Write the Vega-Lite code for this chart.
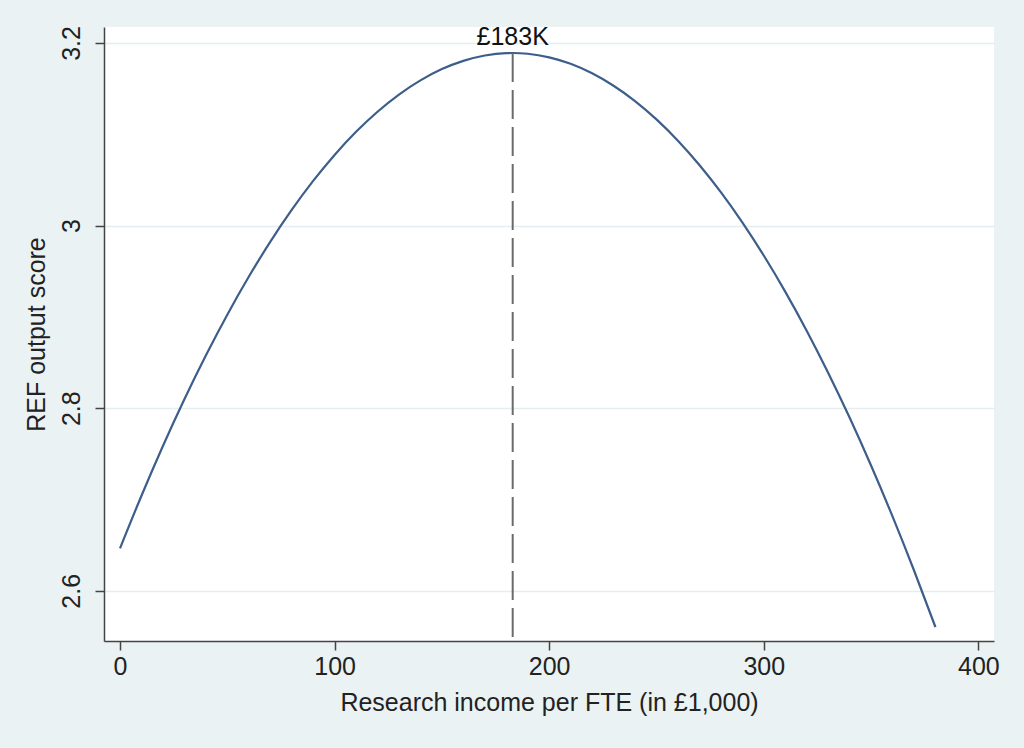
{
  "$schema": "https://vega.github.io/schema/vega-lite/v6.json",
  "autosize": "none",
  "width": 890,
  "height": 614,
  "padding": {"left": 104, "top": 27, "right": 30, "bottom": 107},
  "background": "#eaf2f3",
  "config": {
    "view": {"stroke": null, "fill": "white"},
    "font": "Liberation Sans"
  },
  "datasets": {
    "curve": [
      {"x": 0, "y": 2.6465}, {"x": 10, "y": 2.7041}, {"x": 20, "y": 2.7586}, {"x": 30, "y": 2.8098},
      {"x": 40, "y": 2.8577}, {"x": 50, "y": 2.9024}, {"x": 60, "y": 2.9439}, {"x": 70, "y": 2.9821},
      {"x": 80, "y": 3.0171}, {"x": 90, "y": 3.0489}, {"x": 100, "y": 3.0774}, {"x": 110, "y": 3.1027},
      {"x": 120, "y": 3.1247}, {"x": 130, "y": 3.1435}, {"x": 140, "y": 3.159}, {"x": 150, "y": 3.1714},
      {"x": 160, "y": 3.1804}, {"x": 170, "y": 3.1863}, {"x": 180, "y": 3.1889}, {"x": 183, "y": 3.189},
      {"x": 190, "y": 3.1882}, {"x": 200, "y": 3.1843}, {"x": 210, "y": 3.1772}, {"x": 220, "y": 3.1668},
      {"x": 230, "y": 3.1532}, {"x": 240, "y": 3.1364}, {"x": 250, "y": 3.1163}, {"x": 260, "y": 3.093},
      {"x": 270, "y": 3.0664}, {"x": 280, "y": 3.0366}, {"x": 290, "y": 3.0035}, {"x": 300, "y": 2.9672},
      {"x": 310, "y": 2.9277}, {"x": 320, "y": 2.8849}, {"x": 330, "y": 2.8389}, {"x": 340, "y": 2.7897},
      {"x": 350, "y": 2.7372}, {"x": 360, "y": 2.6815}, {"x": 370, "y": 2.6225}, {"x": 380, "y": 2.5603}
    ],
    "peak": [{"x": 183, "y": 3.189, "ybot": 2.545, "label": "£183K"}]
  },
  "layer": [
    {
      "data": {"name": "curve"},
      "mark": {"type": "line", "color": "#3d5e8a", "strokeWidth": 2.2, "interpolate": "monotone"},
      "encoding": {
        "x": {
          "field": "x", "type": "quantitative",
          "scale": {"domain": [-7.46, 407.3], "nice": false, "zero": false},
          "axis": {
            "values": [0, 100, 200, 300, 400], "grid": false,
            "title": "Research income per FTE (in £1,000)",
            "labelFont": "Liberation Sans", "titleFont": "Liberation Sans",
            "labelFontSize": 25, "titleFontSize": 25, "titleFontWeight": "normal",
            "labelColor": "#222", "titleColor": "#222",
            "domainColor": "#444", "domainWidth": 1.5, "tickColor": "#444", "tickWidth": 1.5, "tickSize": 9,
            "labelPadding": 4, "titlePadding": 11
          }
        },
        "y": {
          "field": "y", "type": "quantitative",
          "scale": {"domain": [2.545, 3.2175], "nice": false, "zero": false},
          "axis": {
            "values": [2.6, 2.8, 3, 3.2], "format": "~g",
            "grid": true, "gridColor": "#e4eef0", "gridWidth": 1.5,
            "labelAngle": -90, "labelAlign": "center", "labelBaseline": "bottom", "labelPadding": 11,
            "title": "REF output score",
            "labelFont": "Liberation Sans", "titleFont": "Liberation Sans",
            "labelFontSize": 25, "titleFontSize": 25, "titleFontWeight": "normal",
            "labelColor": "#222", "titleColor": "#222",
            "domainColor": "#444", "domainWidth": 1.5, "tickColor": "#444", "tickWidth": 1.5, "tickSize": 9,
            "titlePadding": 10
          }
        }
      }
    },
    {
      "data": {"name": "peak"},
      "mark": {"type": "rule", "color": "#6a6a6a", "strokeWidth": 2, "strokeDash": [29, 8]},
      "encoding": {
        "x": {"field": "x", "type": "quantitative"},
        "y": {"field": "y", "type": "quantitative"},
        "y2": {"field": "ybot"}
      }
    },
    {
      "data": {"name": "peak"},
      "mark": {"type": "text", "fontSize": 25, "baseline": "bottom", "dy": -3, "color": "#111", "font": "Liberation Sans"},
      "encoding": {
        "x": {"field": "x", "type": "quantitative"},
        "y": {"field": "y", "type": "quantitative"},
        "text": {"field": "label"}
      }
    }
  ]
}
